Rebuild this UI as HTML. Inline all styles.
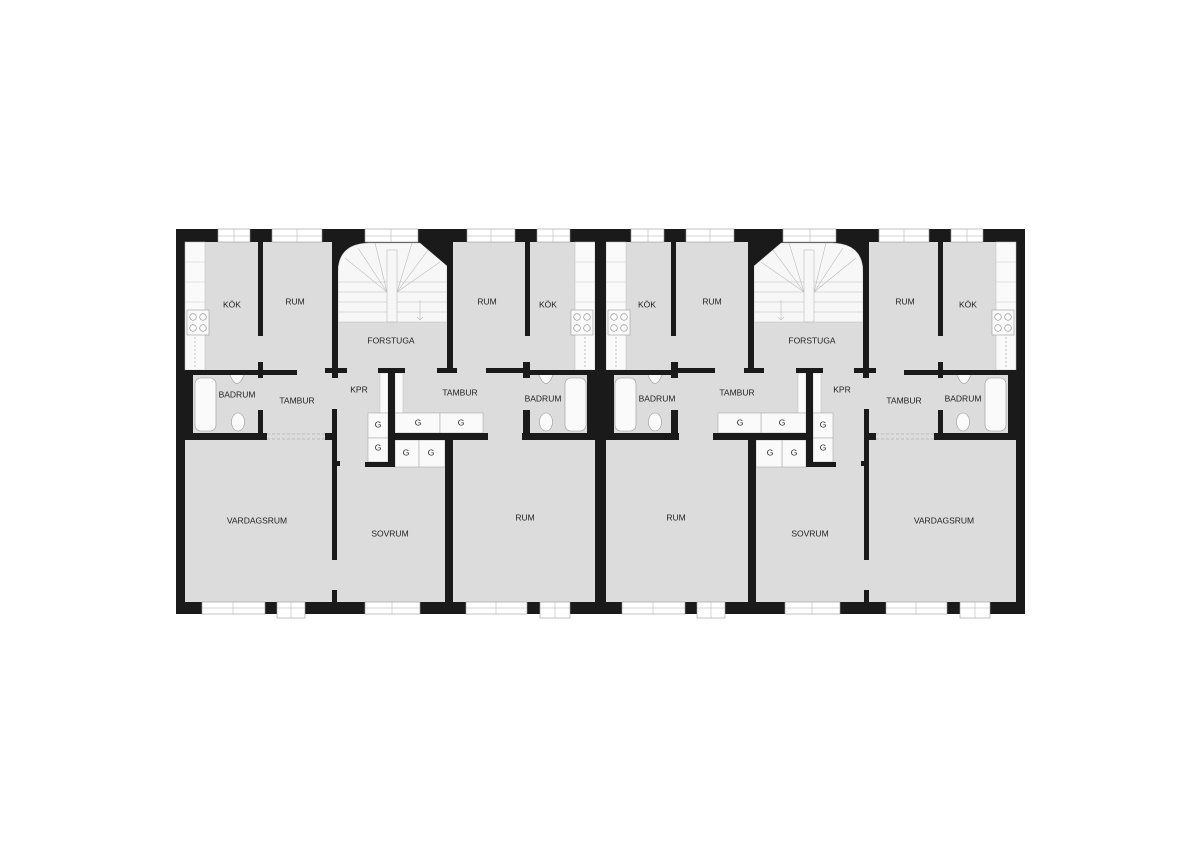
<!DOCTYPE html>
<html><head><meta charset="utf-8"><style>
html,body{margin:0;padding:0;background:#fff;}
svg{display:block;}
text{font-family:"Liberation Sans",sans-serif;font-size:8.5px;fill:#222;text-anchor:middle;dominant-baseline:middle;}
</style></head><body>
<svg width="1200" height="848" viewBox="0 0 1200 848" xmlns="http://www.w3.org/2000/svg">
<defs>
<g id="L">
  <rect x="185" y="242" width="410" height="360" fill="#dcdcdc"/>
  <rect x="332" y="242" width="121" height="28" fill="#1a1a1a"/>
  <path d="M338,322 V272 Q338,244 368,243 L420,243 L447,266 V322 Z" fill="#f7f7f7" stroke="#bbb" stroke-width="0.5"/>
  <g stroke="#bbb" stroke-width="0.6" fill="none">
    <rect x="387" y="250" width="10" height="72"/>
    <line x1="338" y1="292" x2="387" y2="292"/><line x1="338" y1="302" x2="387" y2="302"/><line x1="338" y1="312" x2="387" y2="312"/>
    <line x1="397" y1="292" x2="447" y2="292"/><line x1="397" y1="302" x2="447" y2="302"/><line x1="397" y1="312" x2="447" y2="312"/>
    <line x1="387" y1="292" x2="345" y2="258"/><line x1="387" y1="292" x2="358" y2="248"/><line x1="387" y1="292" x2="375" y2="243"/>
    <line x1="397" y1="292" x2="412" y2="243"/><line x1="397" y1="292" x2="428" y2="250"/><line x1="397" y1="292" x2="440" y2="262"/>
    <line x1="338" y1="282" x2="387" y2="282"/><line x1="397" y1="282" x2="447" y2="282"/>
    <line x1="420" y1="300" x2="420" y2="320"/><path d="M417,317 L420,320 L423,317"/>
  </g>
  <rect x="185" y="242" width="20" height="128" fill="#fafafa" stroke="#bbb" stroke-width="0.5"/>
  <g stroke="#ccc" stroke-width="0.5"><line x1="185" y1="262" x2="205" y2="262"/><line x1="185" y1="282" x2="205" y2="282"/><line x1="185" y1="302" x2="205" y2="302"/></g>
  <rect x="187" y="310" width="22" height="25" fill="#fafafa" stroke="#999" stroke-width="0.6"/>
  <g fill="none" stroke="#888" stroke-width="0.6"><circle cx="193" cy="317" r="3.3"/><circle cx="203" cy="317" r="3.3"/><circle cx="193" cy="328" r="3.3"/><circle cx="203" cy="328" r="3.3"/></g>
  <line x1="195" y1="337" x2="195" y2="367" stroke="#999" stroke-width="0.6" stroke-dasharray="2,2"/>
  <rect x="575" y="242" width="20" height="128" fill="#fafafa" stroke="#bbb" stroke-width="0.5"/>
  <g stroke="#ccc" stroke-width="0.5"><line x1="575" y1="262" x2="595" y2="262"/><line x1="575" y1="282" x2="595" y2="282"/><line x1="575" y1="302" x2="595" y2="302"/></g>
  <rect x="571" y="310" width="22" height="25" fill="#fafafa" stroke="#999" stroke-width="0.6"/>
  <g fill="none" stroke="#888" stroke-width="0.6"><circle cx="577" cy="317" r="3.3"/><circle cx="587" cy="317" r="3.3"/><circle cx="577" cy="328" r="3.3"/><circle cx="587" cy="328" r="3.3"/></g>
  <line x1="585" y1="337" x2="585" y2="367" stroke="#999" stroke-width="0.6" stroke-dasharray="2,2"/>
  <rect x="195" y="378" width="21" height="53" rx="6" fill="#fafafa" stroke="#999" stroke-width="0.6"/>
  <path d="M230,375 Q237,392 244,375" fill="#fafafa" stroke="#999" stroke-width="0.6"/>
  <ellipse cx="238" cy="422" rx="6.5" ry="9" fill="#fafafa" stroke="#999" stroke-width="0.6"/>
  <rect x="565" y="378" width="21" height="53" rx="6" fill="#fafafa" stroke="#999" stroke-width="0.6"/>
  <path d="M539,375 Q546,392 553,375" fill="#fafafa" stroke="#999" stroke-width="0.6"/>
  <ellipse cx="546" cy="422" rx="6.5" ry="9" fill="#fafafa" stroke="#999" stroke-width="0.6"/>
  <rect x="380" y="373" width="8" height="40" fill="#fafafa" stroke="#bbb" stroke-width="0.5"/>
  <rect x="395" y="373" width="8" height="40" fill="#fafafa" stroke="#bbb" stroke-width="0.5"/>
  <rect x="368" y="413" width="20" height="25" fill="#fafafa" stroke="#aaa" stroke-width="0.6"/>
  <rect x="368" y="438" width="20" height="24" fill="#fafafa" stroke="#aaa" stroke-width="0.6"/>
  <rect x="395" y="413" width="45" height="20" fill="#fafafa" stroke="#aaa" stroke-width="0.6"/>
  <rect x="440" y="413" width="43" height="20" fill="#fafafa" stroke="#aaa" stroke-width="0.6"/>
  <rect x="395" y="440" width="24" height="27" fill="#fafafa" stroke="#aaa" stroke-width="0.6"/>
  <rect x="419" y="440" width="26" height="27" fill="#fafafa" stroke="#aaa" stroke-width="0.6"/>
  <g stroke="#999" stroke-width="0.6" stroke-dasharray="3,2"><line x1="267" y1="434" x2="325" y2="434"/><line x1="267" y1="439" x2="325" y2="439"/></g>
  <g fill="#1a1a1a">
    <rect x="258" y="242" width="5" height="94"/>
    <rect x="258" y="362" width="5" height="16"/>
    <rect x="185" y="370" width="112" height="5"/>
    <rect x="185" y="375" width="8" height="65"/>
    <rect x="185" y="433" width="82" height="7"/>
    <rect x="258" y="410" width="5" height="30"/>
    <rect x="332" y="242" width="6" height="136"/>
    <rect x="325" y="368" width="22" height="5"/>
    <rect x="325" y="433" width="12" height="7"/>
    <rect x="332" y="409" width="5" height="151"/>
    <rect x="337" y="461" width="3" height="5"/>
    <rect x="332" y="590" width="5" height="12"/>
    <rect x="447" y="242" width="6" height="131"/>
    <rect x="437" y="368" width="20" height="5"/>
    <rect x="378" y="368" width="27" height="5"/>
    <rect x="388" y="368" width="7" height="99"/>
    <rect x="365" y="462" width="30" height="5"/>
    <rect x="388" y="433" width="100" height="7"/>
    <rect x="445" y="433" width="8" height="169"/>
    <rect x="525" y="242" width="5" height="94"/>
    <rect x="523" y="362" width="7" height="16"/>
    <rect x="486" y="368" width="44" height="5"/>
    <rect x="523" y="370" width="72" height="5"/>
    <rect x="587" y="375" width="8" height="65"/>
    <rect x="522" y="433" width="73" height="7"/>
    <rect x="523" y="410" width="7" height="30"/>
  </g>
  <g fill="#fff" stroke="#999" stroke-width="0.6">
    <rect x="218" y="229" width="32" height="13"/><rect x="272" y="229" width="50" height="13"/>
    <rect x="365" y="229" width="53" height="13"/><rect x="467" y="229" width="48" height="13"/>
    <rect x="537" y="229" width="33" height="13"/>
  </g>
  <g stroke="#aaa" stroke-width="0.5">
    <line x1="218" y1="236" x2="250" y2="236"/><line x1="272" y1="236" x2="322" y2="236"/><line x1="365" y1="236" x2="418" y2="236"/><line x1="467" y1="236" x2="515" y2="236"/><line x1="537" y1="236" x2="570" y2="236"/>
    <line x1="234" y1="229" x2="234" y2="242"/><line x1="297" y1="229" x2="297" y2="242"/><line x1="391" y1="229" x2="391" y2="242"/><line x1="491" y1="229" x2="491" y2="242"/><line x1="553" y1="229" x2="553" y2="242"/>
  </g>
</g>
<g id="B">
  <g fill="#fff" stroke="#999" stroke-width="0.6">
    <rect x="202" y="602" width="63" height="12"/><rect x="277" y="602" width="28" height="16"/>
    <rect x="365" y="602" width="55" height="12"/><rect x="466" y="602" width="61" height="12"/>
    <rect x="540" y="602" width="30" height="16"/>
  </g>
  <g stroke="#aaa" stroke-width="0.5">
    <line x1="202" y1="608" x2="265" y2="608"/><line x1="277" y1="608" x2="305" y2="608"/><line x1="365" y1="608" x2="420" y2="608"/><line x1="466" y1="608" x2="527" y2="608"/><line x1="540" y1="608" x2="570" y2="608"/>
    <line x1="233" y1="602" x2="233" y2="614"/><line x1="291" y1="602" x2="291" y2="618"/><line x1="392" y1="602" x2="392" y2="614"/><line x1="496" y1="602" x2="496" y2="614"/><line x1="555" y1="602" x2="555" y2="618"/>
  </g>
</g>
</defs>
<rect x="176" y="229" width="849" height="385" fill="#1a1a1a"/>
<use href="#L"/>
<use href="#L" transform="matrix(-1 0 0 1 1201 0)"/>
<rect x="595" y="229" width="11" height="385" fill="#1a1a1a"/>
<use href="#B"/>
<use href="#B" transform="translate(420 0)"/>
<g>
<text x="232" y="305">KÖK</text><text x="295" y="302">RUM</text><text x="391" y="341">FORSTUGA</text>
<text x="487" y="302">RUM</text><text x="548" y="305">KÖK</text>
<text x="237" y="395">BADRUM</text><text x="297" y="401">TAMBUR</text><text x="359" y="390">KPR</text>
<text x="460" y="393">TAMBUR</text><text x="543" y="399">BADRUM</text>
<text x="257" y="521">VARDAGSRUM</text><text x="390" y="534">SOVRUM</text><text x="525" y="518">RUM</text>
<text x="378" y="425">G</text><text x="378" y="448">G</text><text x="418" y="423">G</text><text x="461" y="423">G</text><text x="406" y="453">G</text><text x="431" y="453">G</text>
<text x="647" y="305">KÖK</text><text x="712" y="302">RUM</text><text x="812" y="341">FORSTUGA</text>
<text x="905" y="302">RUM</text><text x="968" y="305">KÖK</text>
<text x="657" y="399">BADRUM</text><text x="737" y="393">TAMBUR</text><text x="842" y="390">KPR</text>
<text x="904" y="401">TAMBUR</text><text x="963" y="399">BADRUM</text>
<text x="676" y="518">RUM</text><text x="810" y="534">SOVRUM</text><text x="944" y="521">VARDAGSRUM</text>
<text x="740" y="423">G</text><text x="782" y="423">G</text><text x="823" y="425">G</text><text x="823" y="448">G</text><text x="770" y="453">G</text><text x="794" y="453">G</text>
</g>
</svg>
</body></html>
